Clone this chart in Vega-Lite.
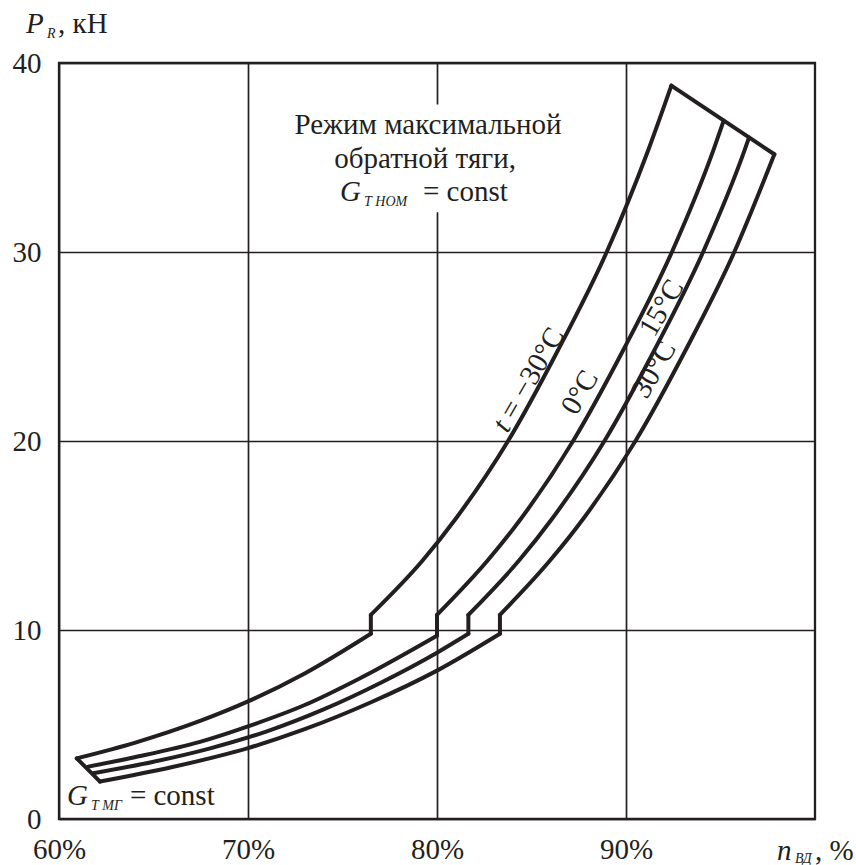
{
  "$schema": "https://vega.github.io/schema/vega-lite/v6.json",
  "width": 756,
  "height": 756,
  "autosize": {"type": "none"},
  "padding": {"left": 59, "top": 63, "right": 41, "bottom": 46},
  "background": "white",
  "config": {"view": {"stroke": "#231f20", "strokeWidth": 2.3}, "font": "Liberation Serif"},
  "datasets": {
    "mask": [
      {"x": 74.6, "x2": 84.5, "y": 32.1, "y2": 37.8}
    ],
    "curves": [
      {"seg": "m30_lo", "kind": "curve", "ord": 1, "x": 60.94, "y": 3.21},
      {"seg": "m30_lo", "kind": "curve", "ord": 2, "x": 64, "y": 4.03},
      {"seg": "m30_lo", "kind": "curve", "ord": 3, "x": 67.5, "y": 5.2},
      {"seg": "m30_lo", "kind": "curve", "ord": 4, "x": 70, "y": 6.22},
      {"seg": "m30_lo", "kind": "curve", "ord": 5, "x": 73, "y": 7.7},
      {"seg": "m30_lo", "kind": "curve", "ord": 6, "x": 76.5, "y": 9.8},
      {"seg": "m30_up", "kind": "curve", "ord": 1, "x": 76.5, "y": 10.8},
      {"seg": "m30_up", "kind": "curve", "ord": 2, "x": 79.26, "y": 13.7},
      {"seg": "m30_up", "kind": "curve", "ord": 3, "x": 81.0, "y": 15.9},
      {"seg": "m30_up", "kind": "curve", "ord": 4, "x": 83.76, "y": 20},
      {"seg": "m30_up", "kind": "curve", "ord": 5, "x": 86.4, "y": 24.8},
      {"seg": "m30_up", "kind": "curve", "ord": 6, "x": 88.98, "y": 30},
      {"seg": "m30_up", "kind": "curve", "ord": 7, "x": 91.18, "y": 35.4},
      {"seg": "m30_up", "kind": "curve", "ord": 8, "x": 92.4, "y": 38.8},
      {"seg": "z0_lo", "kind": "curve", "ord": 1, "x": 61.55, "y": 2.77},
      {"seg": "z0_lo", "kind": "curve", "ord": 2, "x": 64, "y": 3.27},
      {"seg": "z0_lo", "kind": "curve", "ord": 3, "x": 67.46, "y": 4.08},
      {"seg": "z0_lo", "kind": "curve", "ord": 4, "x": 70, "y": 4.9},
      {"seg": "z0_lo", "kind": "curve", "ord": 5, "x": 73, "y": 6.03},
      {"seg": "z0_lo", "kind": "curve", "ord": 6, "x": 75.93, "y": 7.45},
      {"seg": "z0_lo", "kind": "curve", "ord": 7, "x": 80, "y": 9.7},
      {"seg": "z0_up", "kind": "curve", "ord": 1, "x": 80, "y": 10.8},
      {"seg": "z0_up", "kind": "curve", "ord": 2, "x": 82.7, "y": 13.7},
      {"seg": "z0_up", "kind": "curve", "ord": 3, "x": 84.45, "y": 15.9},
      {"seg": "z0_up", "kind": "curve", "ord": 4, "x": 87.2, "y": 20},
      {"seg": "z0_up", "kind": "curve", "ord": 5, "x": 89.85, "y": 24.8},
      {"seg": "z0_up", "kind": "curve", "ord": 6, "x": 92.43, "y": 30},
      {"seg": "z0_up", "kind": "curve", "ord": 7, "x": 94.63, "y": 35.4},
      {"seg": "z0_up", "kind": "curve", "ord": 8, "x": 95.17, "y": 36.95},
      {"seg": "p15_lo", "kind": "curve", "ord": 1, "x": 61.8, "y": 2.42},
      {"seg": "p15_lo", "kind": "curve", "ord": 2, "x": 65, "y": 3.03},
      {"seg": "p15_lo", "kind": "curve", "ord": 3, "x": 68, "y": 3.74},
      {"seg": "p15_lo", "kind": "curve", "ord": 4, "x": 71, "y": 4.64},
      {"seg": "p15_lo", "kind": "curve", "ord": 5, "x": 74, "y": 5.8},
      {"seg": "p15_lo", "kind": "curve", "ord": 6, "x": 77, "y": 7.2},
      {"seg": "p15_lo", "kind": "curve", "ord": 7, "x": 80, "y": 8.8},
      {"seg": "p15_lo", "kind": "curve", "ord": 8, "x": 81.66, "y": 9.8},
      {"seg": "p15_up", "kind": "curve", "ord": 1, "x": 81.66, "y": 10.8},
      {"seg": "p15_up", "kind": "curve", "ord": 2, "x": 84.36, "y": 13.7},
      {"seg": "p15_up", "kind": "curve", "ord": 3, "x": 86.1, "y": 15.9},
      {"seg": "p15_up", "kind": "curve", "ord": 4, "x": 88.86, "y": 20},
      {"seg": "p15_up", "kind": "curve", "ord": 5, "x": 91.5, "y": 24.8},
      {"seg": "p15_up", "kind": "curve", "ord": 6, "x": 94.08, "y": 30},
      {"seg": "p15_up", "kind": "curve", "ord": 7, "x": 96.28, "y": 35.4},
      {"seg": "p15_up", "kind": "curve", "ord": 8, "x": 96.51, "y": 36.06},
      {"seg": "p30_lo", "kind": "curve", "ord": 1, "x": 62.17, "y": 1.98},
      {"seg": "p30_lo", "kind": "curve", "ord": 2, "x": 66, "y": 2.75},
      {"seg": "p30_lo", "kind": "curve", "ord": 3, "x": 70, "y": 3.75},
      {"seg": "p30_lo", "kind": "curve", "ord": 4, "x": 73, "y": 4.75},
      {"seg": "p30_lo", "kind": "curve", "ord": 5, "x": 76.45, "y": 6.15},
      {"seg": "p30_lo", "kind": "curve", "ord": 6, "x": 80, "y": 7.85},
      {"seg": "p30_lo", "kind": "curve", "ord": 7, "x": 83.33, "y": 9.8},
      {"seg": "p30_up", "kind": "curve", "ord": 1, "x": 83.33, "y": 10.8},
      {"seg": "p30_up", "kind": "curve", "ord": 2, "x": 86.0, "y": 13.7},
      {"seg": "p30_up", "kind": "curve", "ord": 3, "x": 87.75, "y": 15.9},
      {"seg": "p30_up", "kind": "curve", "ord": 4, "x": 90.5, "y": 20},
      {"seg": "p30_up", "kind": "curve", "ord": 5, "x": 93.15, "y": 24.8},
      {"seg": "p30_up", "kind": "curve", "ord": 6, "x": 95.73, "y": 30},
      {"seg": "p30_up", "kind": "curve", "ord": 7, "x": 97.85, "y": 35.17},
      {"seg": "m30_step", "kind": "straight", "ord": 1, "x": 76.5, "y": 9.8},
      {"seg": "m30_step", "kind": "straight", "ord": 2, "x": 76.5, "y": 10.8},
      {"seg": "z0_step", "kind": "straight", "ord": 1, "x": 80, "y": 9.7},
      {"seg": "z0_step", "kind": "straight", "ord": 2, "x": 80, "y": 10.8},
      {"seg": "p15_step", "kind": "straight", "ord": 1, "x": 81.66, "y": 9.8},
      {"seg": "p15_step", "kind": "straight", "ord": 2, "x": 81.66, "y": 10.8},
      {"seg": "p30_step", "kind": "straight", "ord": 1, "x": 83.33, "y": 9.8},
      {"seg": "p30_step", "kind": "straight", "ord": 2, "x": 83.33, "y": 10.8},
      {"seg": "top_cap", "kind": "straight", "ord": 1, "x": 92.4, "y": 38.8},
      {"seg": "top_cap", "kind": "straight", "ord": 2, "x": 97.85, "y": 35.17},
      {"seg": "bot_cap", "kind": "straight", "ord": 1, "x": 60.94, "y": 3.21},
      {"seg": "bot_cap", "kind": "straight", "ord": 2, "x": 62.17, "y": 1.98}
    ],
    "notes": [
      {"grp": "roman", "x": 59.95, "y": 41.59, "text": ", кН"},
      {"grp": "roman", "x": 79.26, "y": 32.7, "text": "= const"},
      {"grp": "roman", "x": 63.75, "y": 0.74, "text": "= const"},
      {"grp": "roman", "x": 100.0, "y": -2.17, "text": ", %"},
      {"grp": "center", "x": 79.52, "y": 36.24, "text": "Режим максимальной"},
      {"grp": "center", "x": 79.37, "y": 34.44, "text": "обратной тяги,"},
      {"grp": "italic", "x": 58.25, "y": 41.59, "text": "P"},
      {"grp": "italic", "x": 74.87, "y": 32.7, "text": "G"},
      {"grp": "italic", "x": 60.42, "y": 0.74, "text": "G"},
      {"grp": "italic", "x": 97.99, "y": -2.17, "text": "n"},
      {"grp": "sub", "x": 59.37, "y": 41.32, "text": "R"},
      {"grp": "sub", "x": 76.14, "y": 32.43, "text": "Т НОМ"},
      {"grp": "sub", "x": 61.69, "y": 0.48, "text": "Т МГ"},
      {"grp": "sub", "x": 98.94, "y": -2.33, "text": "ВД"},
      {"grp": "rot_it", "x": 83.73, "y": 20.37, "text": "t"},
      {"grp": "rot_first", "x": 83.73, "y": 20.37, "text": "= −30°C"},
      {"grp": "rot", "x": 87.37, "y": 21.29, "text": "0°C"},
      {"grp": "rot", "x": 91.5, "y": 25.43, "text": "15°C"},
      {"grp": "rot", "x": 91.1, "y": 22.17, "text": "30°C"}
    ]
  },
  "layer": [
    {
      "data": {"name": "curves"},
      "transform": [{"filter": "datum.kind == 'curve'"}],
      "mark": {"type": "line", "interpolate": "monotone", "color": "#231f20", "strokeWidth": 4, "strokeCap": "round", "strokeJoin": "round", "clip": false},
      "encoding": {
        "x": {"field": "x", "type": "quantitative", "title": null, "scale": {"domain": [60, 100], "nice": false, "zero": false},
          "axis": {"values": [60, 70, 80, 90], "title": null, "grid": true, "gridColor": "#231f20", "gridWidth": 1.7, "gridOpacity": 1, "domain": false, "ticks": false, "tickSize": 0, "labelExpr": "datum.value + '%'", "labelFont": "Liberation Serif", "labelFontSize": 29, "labelColor": "#231f20", "labelPadding": 39, "labelBaseline": "alphabetic", "labelAngle": 0, "labelFlush": false, "labelOverlap": false}},
        "y": {"field": "y", "type": "quantitative", "title": null, "scale": {"domain": [0, 40], "nice": false, "zero": false},
          "axis": {"values": [0, 10, 20, 30, 40], "title": null, "grid": true, "gridColor": "#231f20", "gridWidth": 1.7, "gridOpacity": 1, "domain": false, "ticks": false, "tickSize": 0, "labelFont": "Liberation Serif", "labelFontSize": 29, "labelColor": "#231f20", "labelPadding": 18, "labelBaseline": "middle", "labelAlign": "right", "labelFlush": false, "labelOverlap": false}},
        "detail": {"field": "seg"},
        "order": {"field": "ord", "type": "quantitative"}
      }
    },
    {
      "data": {"name": "mask"},
      "mark": {"type": "rect", "color": "white", "opacity": 1, "strokeWidth": 0},
      "encoding": {
        "x": {"field": "x", "type": "quantitative", "title": null},
        "x2": {"field": "x2"},
        "y": {"field": "y", "type": "quantitative", "title": null},
        "y2": {"field": "y2"}
      }
    },
    {
      "data": {"name": "curves"},
      "transform": [{"filter": "datum.kind == 'straight'"}],
      "mark": {"type": "line", "interpolate": "linear", "color": "#231f20", "strokeWidth": 4, "strokeCap": "round", "strokeJoin": "round", "clip": false},
      "encoding": {
        "x": {"field": "x", "type": "quantitative", "title": null},
        "y": {"field": "y", "type": "quantitative", "title": null},
        "detail": {"field": "seg"},
        "order": {"field": "ord", "type": "quantitative"}
      }
    },
    {
      "data": {"name": "notes"},
      "transform": [{"filter": "datum.grp == 'roman'"}],
      "mark": {"type": "text", "font": "Liberation Serif", "fontSize": 29, "align": "left", "baseline": "alphabetic", "color": "#231f20"},
      "encoding": {"x": {"field": "x", "type": "quantitative", "title": null}, "y": {"field": "y", "type": "quantitative", "title": null}, "text": {"field": "text"}}
    },
    {
      "data": {"name": "notes"},
      "transform": [{"filter": "datum.grp == 'center'"}],
      "mark": {"type": "text", "font": "Liberation Serif", "fontSize": 29, "align": "center", "baseline": "alphabetic", "color": "#231f20"},
      "encoding": {"x": {"field": "x", "type": "quantitative", "title": null}, "y": {"field": "y", "type": "quantitative", "title": null}, "text": {"field": "text"}}
    },
    {
      "data": {"name": "notes"},
      "transform": [{"filter": "datum.grp == 'italic'"}],
      "mark": {"type": "text", "font": "Liberation Serif", "fontSize": 29, "fontStyle": "italic", "align": "left", "baseline": "alphabetic", "color": "#231f20"},
      "encoding": {"x": {"field": "x", "type": "quantitative", "title": null}, "y": {"field": "y", "type": "quantitative", "title": null}, "text": {"field": "text"}}
    },
    {
      "data": {"name": "notes"},
      "transform": [{"filter": "datum.grp == 'sub'"}],
      "mark": {"type": "text", "font": "Liberation Serif", "fontSize": 14, "fontStyle": "italic", "align": "left", "baseline": "alphabetic", "color": "#231f20"},
      "encoding": {"x": {"field": "x", "type": "quantitative", "title": null}, "y": {"field": "y", "type": "quantitative", "title": null}, "text": {"field": "text"}}
    },
    {
      "data": {"name": "notes"},
      "transform": [{"filter": "datum.grp == 'rot_it'"}],
      "mark": {"type": "text", "font": "Liberation Serif", "fontSize": 29, "fontStyle": "italic", "align": "left", "baseline": "alphabetic", "angle": 300, "color": "#231f20"},
      "encoding": {"x": {"field": "x", "type": "quantitative", "title": null}, "y": {"field": "y", "type": "quantitative", "title": null}, "text": {"field": "text"}}
    },
    {
      "data": {"name": "notes"},
      "transform": [{"filter": "datum.grp == 'rot_first'"}],
      "mark": {"type": "text", "font": "Liberation Serif", "fontSize": 29, "align": "left", "baseline": "alphabetic", "angle": 300, "dx": 15, "color": "#231f20"},
      "encoding": {"x": {"field": "x", "type": "quantitative", "title": null}, "y": {"field": "y", "type": "quantitative", "title": null}, "text": {"field": "text"}}
    },
    {
      "data": {"name": "notes"},
      "transform": [{"filter": "datum.grp == 'rot'"}],
      "mark": {"type": "text", "font": "Liberation Serif", "fontSize": 29, "align": "left", "baseline": "alphabetic", "angle": 300, "color": "#231f20"},
      "encoding": {"x": {"field": "x", "type": "quantitative", "title": null}, "y": {"field": "y", "type": "quantitative", "title": null}, "text": {"field": "text"}}
    }
  ]
}
